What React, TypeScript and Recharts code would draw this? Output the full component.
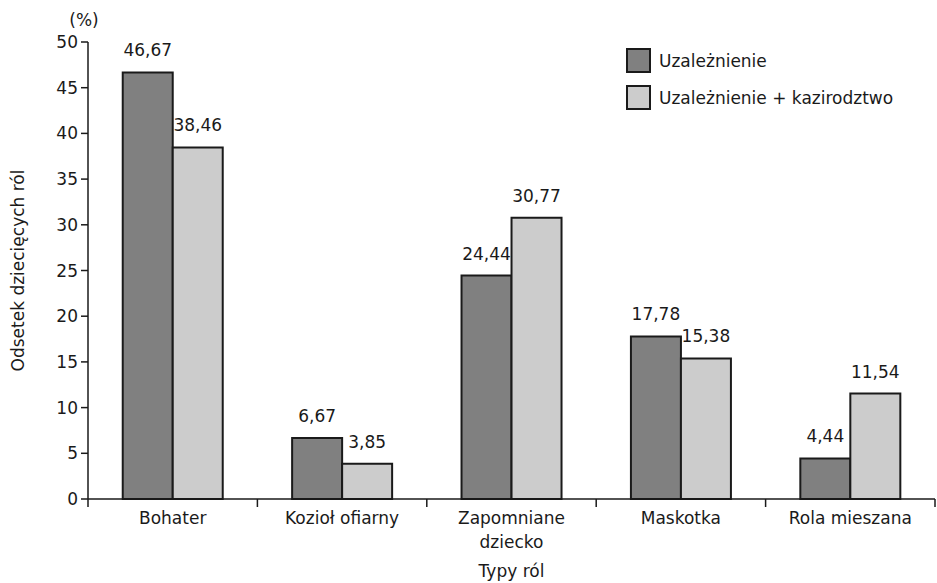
import React from 'react';
import { BarChart, Bar, XAxis, YAxis, LabelList, Legend, Label } from 'recharts';

const categories = ['Bohater', 'Kozioł ofiarny', 'Zapomniane\ndziecko', 'Maskotka', 'Rola mieszana'];
const addiction = [46.67, 6.67, 24.44, 17.78, 4.44];
const addictionIncest = [38.46, 3.85, 30.77, 15.38, 11.54];
const seriesNames = ['Uzależnienie', 'Uzależnienie + kazirodztwo'];
const yTicks = [0, 5, 10, 15, 20, 25, 30, 35, 40, 45, 50];
const yTitle = 'Odsetek dziecięcych ról';
const yUnit = '(%)';
const xTitle = 'Typy ról';

const data = categories.map((name, i) => ({ name, a: addiction[i], b: addictionIncest[i] }));

const FONT = '"DejaVu Sans", sans-serif';
const FS = 17;
const TXT = '#1a1a1a';
const DARK = '#808080';
const LIGHT = '#cccccc';
const colors = [DARK, LIGHT];
const TICK = 8;

const fmt = (v: any) => Number(v).toFixed(2).replace('.', ',');

const CatTick = (props: any) => {
  const { x, y, payload, index, visibleTicksCount } = props;
  const lines = String(payload.value).split('\n');
  const half = payload.offset || 0;
  const axisY = y - TICK;
  const isLast = index === (visibleTicksCount ?? categories.length) - 1;
  return (
    <g>
      <line x1={x - half} x2={x - half} y1={axisY} y2={axisY + TICK} stroke="#1a1a1a" strokeWidth={1.5} />
      {isLast && <line x1={x + half} x2={x + half} y1={axisY} y2={axisY + TICK} stroke="#1a1a1a" strokeWidth={1.5} />}
      <text x={x} y={y} textAnchor="middle" fontFamily={FONT} fontSize={FS} fill={TXT}>
        {lines.map((l, i) => (
          <tspan key={i} x={x} dy={i === 0 ? 17 : 24}>{l}</tspan>
        ))}
      </text>
    </g>
  );
};

const LegendContent = () => (
  <div style={{ fontFamily: FONT, fontSize: FS, color: TXT }}>
    {seriesNames.map((n, i) => (
      <div key={n} style={{ display: 'flex', alignItems: 'center', height: 37 }}>
        <div style={{ width: 21, height: 21, background: colors[i], border: '2px solid #1a1a1a', marginRight: 8 }} />
        <span>{n}</span>
      </div>
    ))}
  </div>
);

export default function App() {
  return (
    <div style={{ position: 'absolute', left: 0, top: 0, width: 937, height: 583, background: '#fff' }}>
      <BarChart
        width={937}
        height={583}
        data={data}
        margin={{ top: 42, right: 2, bottom: 0, left: 0 }}
        barCategoryGap="20.5%"
        barGap={0}
      >
        <XAxis
          dataKey="name"
          height={84}
          axisLine={{ stroke: '#1a1a1a', strokeWidth: 1.5 }}
          tickLine={{ stroke: 'none' }}
          tickSize={TICK}
          tickMargin={0}
          tick={<CatTick />}
          interval={0}
        >
          <Label
            content={(p: any) => {
              const vb = p.viewBox;
              return (
                <text x={vb.x + vb.width / 2} y={vb.y + vb.height - 6} textAnchor="middle" fontFamily={FONT} fontSize={FS} fill={TXT}>
                  {xTitle}
                </text>
              );
            }}
          />
        </XAxis>
        <YAxis
          width={88}
          domain={[0, 50]}
          ticks={yTicks}
          interval={0}
          tickSize={7}
          tickMargin={3}
          axisLine={{ stroke: '#1a1a1a', strokeWidth: 1.5 }}
          tickLine={{ stroke: '#1a1a1a', strokeWidth: 1.5 }}
          tick={{ fontFamily: FONT, fontSize: FS, fill: TXT }}
        >
          <Label
            content={(p: any) => {
              const vb = p.viewBox;
              const cy = vb.y + vb.height / 2;
              return (
                <g>
                  <text x={18} y={cy} transform={`rotate(-90 18 ${cy})`} textAnchor="middle" dominantBaseline="central" fontFamily={FONT} fontSize={FS} fill={TXT}>
                    {yTitle}
                  </text>
                  <text x={vb.x + vb.width - 4} y={vb.y - 16} textAnchor="middle" fontFamily={FONT} fontSize={FS} fill={TXT}>
                    {yUnit}
                  </text>
                </g>
              );
            }}
          />
        </YAxis>
        <Legend
          layout="horizontal"
          verticalAlign="middle"
          align="center"
          content={<LegendContent />}
          wrapperStyle={{ position: 'absolute', left: 626, top: 42, width: 300, height: 80 }}
        />
        <Bar dataKey="a" name={seriesNames[0]} fill={DARK} stroke="#1a1a1a" strokeWidth={2} isAnimationActive={false}>
          <LabelList dataKey="a" position="top" offset={16} formatter={fmt} style={{ fontFamily: FONT, fontSize: FS, fill: TXT }} />
        </Bar>
        <Bar dataKey="b" name={seriesNames[1]} fill={LIGHT} stroke="#1a1a1a" strokeWidth={2} isAnimationActive={false}>
          <LabelList dataKey="b" position="top" offset={16} formatter={fmt} style={{ fontFamily: FONT, fontSize: FS, fill: TXT }} />
        </Bar>
      </BarChart>
    </div>
  );
}
